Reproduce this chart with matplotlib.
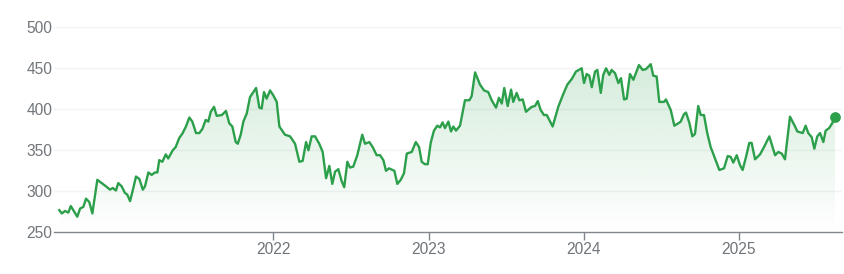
import matplotlib

matplotlib.use("Agg")
import matplotlib.pyplot as plt  # noqa: E402
import numpy as np
from matplotlib.patches import Polygon

# decimal-year positions and closing prices
years = [
    2020.621, 2020.637, 2020.658, 2020.679, 2020.695, 2020.711, 2020.737, 2020.755,
    2020.776, 2020.793, 2020.814, 2020.834, 2020.866, 2020.894, 2020.922, 2020.948,
    2020.965, 2020.986, 2021.001, 2021.023, 2021.044, 2021.059, 2021.077, 2021.098,
    2021.115, 2021.137, 2021.159, 2021.173, 2021.195, 2021.216, 2021.238, 2021.253,
    2021.265, 2021.285, 2021.307, 2021.323, 2021.352, 2021.371, 2021.394, 2021.416,
    2021.437, 2021.459, 2021.478, 2021.502, 2021.523, 2021.543, 2021.564, 2021.581,
    2021.597, 2021.618, 2021.635, 2021.668, 2021.695, 2021.716, 2021.736, 2021.758,
    2021.771, 2021.790, 2021.807, 2021.829, 2021.850, 2021.871, 2021.889, 2021.910,
    2021.925, 2021.940, 2021.957, 2021.979, 2022.000, 2022.022, 2022.039, 2022.075,
    2022.108, 2022.140, 2022.168, 2022.189, 2022.211, 2022.226, 2022.247, 2022.269,
    2022.296, 2022.318, 2022.340, 2022.361, 2022.380, 2022.398, 2022.419, 2022.441,
    2022.457, 2022.477, 2022.494, 2022.515, 2022.541, 2022.573, 2022.591, 2022.619,
    2022.640, 2022.666, 2022.688, 2022.709, 2022.726, 2022.745, 2022.780, 2022.799,
    2022.821, 2022.842, 2022.860, 2022.892, 2022.918, 2022.939, 2022.956, 2022.977,
    2022.995, 2023.014, 2023.035, 2023.057, 2023.074, 2023.091, 2023.106, 2023.128,
    2023.145, 2023.160, 2023.177, 2023.203, 2023.235, 2023.263, 2023.278, 2023.300,
    2023.332, 2023.358, 2023.385, 2023.407, 2023.435, 2023.454, 2023.472, 2023.488,
    2023.510, 2023.532, 2023.546, 2023.568, 2023.585, 2023.607, 2023.628, 2023.665,
    2023.686, 2023.704, 2023.723, 2023.744, 2023.762, 2023.800, 2023.836, 2023.865,
    2023.894, 2023.923, 2023.950, 2023.987, 2024.002, 2024.019, 2024.036, 2024.052,
    2024.073, 2024.088, 2024.110, 2024.126, 2024.144, 2024.165, 2024.180, 2024.202,
    2024.223, 2024.240, 2024.260, 2024.277, 2024.298, 2024.320, 2024.356, 2024.380,
    2024.401, 2024.432, 2024.448, 2024.470, 2024.487, 2024.517, 2024.530, 2024.561,
    2024.584, 2024.610, 2024.625, 2024.646, 2024.659, 2024.680, 2024.700, 2024.717,
    2024.738, 2024.754, 2024.775, 2024.796, 2024.818, 2024.846, 2024.874, 2024.904,
    2024.928, 2024.947, 2024.964, 2024.986, 2025.007, 2025.024, 2025.046, 2025.067,
    2025.082, 2025.104, 2025.136, 2025.162, 2025.196, 2025.233, 2025.254, 2025.276,
    2025.297, 2025.329, 2025.362, 2025.376, 2025.411, 2025.430, 2025.447, 2025.469,
    2025.486, 2025.505, 2025.523, 2025.544, 2025.559, 2025.581, 2025.598, 2025.621,
]
prices = [
    277, 273, 276, 274, 282, 277, 269, 279,
    281, 291, 287, 273, 314, 310, 306, 302,
    304, 301, 310, 306, 298, 296, 288, 304,
    318, 315, 302, 306, 323, 320, 323, 323,
    338, 336, 345, 340, 350, 354, 365, 371,
    379, 390, 385, 371, 371, 376, 387, 385,
    397, 403, 392, 393, 398, 383, 379, 360,
    358, 369, 385, 395, 415, 421, 426, 402,
    401, 421, 413, 423, 417, 409, 379, 369,
    367, 358, 336, 337, 360, 350, 367, 367,
    358, 348, 316, 331, 309, 324, 327, 312,
    305, 336, 329, 330, 344, 369, 358, 360,
    354, 344, 344, 338, 325, 328, 325, 309,
    314, 322, 346, 348, 360, 354, 336, 333,
    333, 359, 374, 380, 378, 384, 377, 385,
    373, 379, 374, 380, 411, 411, 416, 445,
    430, 423, 421, 411, 402, 414, 407, 426,
    404, 424, 409, 420, 411, 412, 397, 403,
    404, 410, 399, 393, 393, 379, 403, 417,
    430, 437, 446, 450, 432, 443, 441, 427,
    446, 448, 420, 442, 450, 442, 448, 444,
    432, 438, 412, 413, 443, 436, 454, 448,
    449, 455, 441, 440, 409, 409, 412, 399,
    380, 383, 385, 394, 396, 384, 367, 370,
    404, 393, 393, 371, 354, 340, 326, 328,
    343, 342, 335, 344, 332, 326, 342, 359,
    359, 339, 345, 354, 367, 344, 348, 346,
    339, 391, 379, 373, 371, 380, 371, 366,
    352, 367, 371, 360, 374, 377, 382, 390,
]
y_ticks = [250, 300, 350, 400, 450, 500]
x_ticks = [2022, 2023, 2024, 2025]
x_labels = ["2022", "2023", "2024", "2025"]

GREEN = "#2c9f4b"
GREY = "#70757a"
AXIS = "#80868b"

plt.rcParams["font.family"] = ["Liberation Sans", "DejaVu Sans"]

fig = plt.figure(figsize=(8.45, 2.74), dpi=100)
ax = fig.add_axes([0.0643, 0.1522, 0.9321, 0.7482])

x = np.array(years)
y = np.array(prices)
y0 = 250

# gradient fill under the line
grad = np.linspace(0.0, 1.0, 256).reshape(-1, 1)
rgba = np.zeros((256, 1, 4))
rgba[..., 0] = 0x2c / 255
rgba[..., 1] = 0x9f / 255
rgba[..., 2] = 0x4b / 255
rgba[..., 3] = 0.20 * grad[::-1]
img = ax.imshow(rgba, aspect="auto", origin="upper",
                extent=[x.min(), x.max(), y0, y.max()], zorder=1)
verts = np.vstack([[x[0], y0], np.column_stack([x, y]), [x[-1], y0]])
clip = Polygon(verts, closed=True, facecolor="none", edgecolor="none")
ax.add_patch(clip)
img.set_clip_path(clip)

ax.plot(x, y, color=GREEN, lw=1.7, zorder=3, solid_joinstyle="round")
ax.scatter([x[-1]], [y[-1]], s=45, color=GREEN, zorder=4)

ax.set_xlim(2020.589, 2025.664)
ax.set_ylim(250, 500)
ax.set_yticks(y_ticks)
ax.set_xticks(x_ticks)
ax.set_xticklabels(x_labels)

for v in y_ticks[1:]:
    ax.axhline(v, color="#f1f3f4", lw=1, zorder=0)

for s in ["top", "right", "left"]:
    ax.spines[s].set_visible(False)
ax.spines["bottom"].set_color(AXIS)
ax.spines["bottom"].set_linewidth(1)

ax.tick_params(axis="y", length=0, pad=1.5, labelsize=11.2, labelcolor=GREY)
ax.tick_params(axis="x", length=6, width=1, color=AXIS, pad=1,
               labelsize=11.2, labelcolor=GREY)

fig.savefig("out.png", dpi=100)
